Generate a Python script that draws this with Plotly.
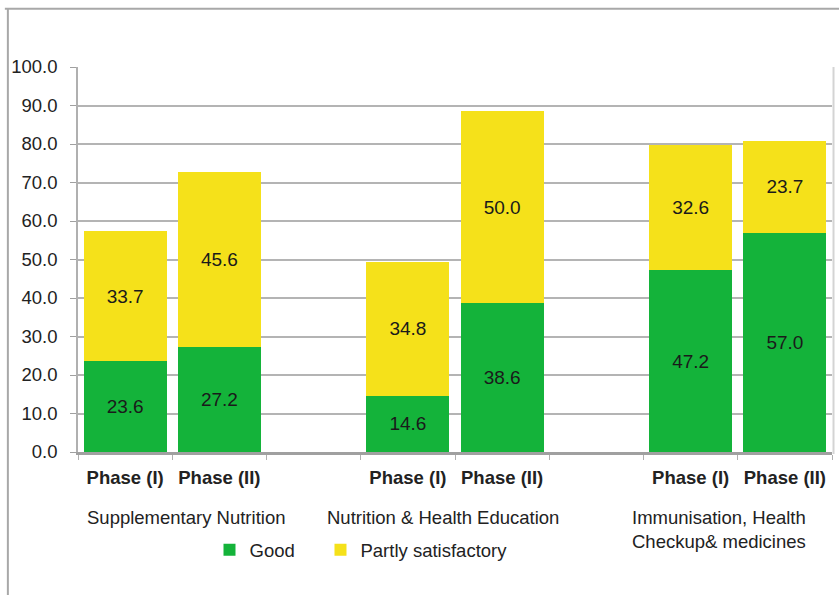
import plotly.graph_objects as go

# Category slots: two phases per programme, with an empty slot between groups
slot_pos = [0, 1, 3, 4, 6, 7]
phase_labels = ["Phase (I)", "Phase (II)", "Phase (I)", "Phase (II)", "Phase (I)", "Phase (II)"]
group_labels = ["Supplementary Nutrition", "Nutrition & Health Education",
                "Immunisation, Health<br>Checkup& medicines"]
group_label_x = [0.65, 3.37, 6.30]

good = [23.6, 27.2, 14.6, 38.6, 47.2, 57.0]
partly = [33.7, 45.6, 34.8, 50.0, 32.6, 23.7]

y_ticks = [0, 10, 20, 30, 40, 50, 60, 70, 80, 90, 100]

GREEN = "#14B33A"
YELLOW = "#F5E11A"
FONT = "Liberation Sans, Arial, sans-serif"

fig = go.Figure()
fig.add_trace(go.Bar(
    x=slot_pos, y=good, name="Good", marker=dict(color=GREEN, line=dict(width=0)),
    text=[f"{v:.1f}" for v in good], textposition="inside", insidetextanchor="middle",
    textfont=dict(size=19, color="#1a1a1a", family=FONT), textangle=0,
    legend="legend",
))
fig.add_trace(go.Bar(
    x=slot_pos, y=partly, name="Partly satisfactory",
    marker=dict(color=YELLOW, line=dict(width=0)),
    text=[f"{v:.1f}" for v in partly], textposition="inside", insidetextanchor="middle",
    textfont=dict(size=19, color="#1a1a1a", family=FONT), textangle=0,
    legend="legend2",
))

# Programme names under the phase labels
for gx, gl in zip(group_label_x, group_labels):
    fig.add_annotation(x=gx, y=0, xref="x", yref="paper", text=gl, showarrow=False,
                       xanchor="center", yanchor="top", yshift=-53, align="left",
                       font=dict(size=18.5, color="#222", family=FONT))

# Outer frame (top and left edges)
fig.add_shape(type="line", xref="paper", yref="paper", x0=-0.097, x1=1.02,
              y0=1.151, y1=1.151, line=dict(color="#a8a8a8", width=2))
fig.add_shape(type="line", xref="paper", yref="paper", x0=-0.093, x1=-0.093,
              y0=1.151, y1=-0.40, line=dict(color="#a8a8a8", width=2))
# Soft shadow on the right edge of the plot area
fig.add_shape(type="line", xref="paper", yref="paper", x0=1.002, x1=1.002,
              y0=-0.005, y1=1, line=dict(color="#d4d4d4", width=2), layer="below")

legend_style = dict(orientation="h", y=-0.255, xanchor="left", yanchor="middle",
                    font=dict(size=18.5, family=FONT, color="#222"), itemwidth=30,
                    bgcolor="rgba(0,0,0,0)")

fig.update_layout(
    width=839, height=595,
    margin=dict(l=78, r=7, t=67, b=143),
    barmode="stack", bargap=0.12,
    plot_bgcolor="white", paper_bgcolor="white",
    font=dict(family=FONT, color="#222"),
    showlegend=True,
    legend=dict(x=0.1744, **legend_style),
    legend2=dict(x=0.3216, **legend_style),
    xaxis=dict(
        range=[-0.5, 7.5], tickmode="array", tickvals=slot_pos,
        ticktext=[f"<b>{p}</b>" for p in phase_labels],
        tickfont=dict(size=18.5, family=FONT, color="#222"),
        ticks="", showgrid=False, zeroline=False,
        showline=True, linecolor="#a0a0a0", linewidth=2.5,
        ticklabelstandoff=7,
        minor=dict(tick0=0.5, dtick=1, ticks="outside", ticklen=5,
                   tickcolor="#b0b0b0", tickwidth=1, showgrid=False),
    ),
    yaxis=dict(
        range=[0, 100], tickmode="array", tickvals=y_ticks,
        ticktext=[f"{v:.1f}" for v in y_ticks],
        tickfont=dict(size=18.5, family=FONT, color="#222"),
        ticks="outside", ticklen=6, tickcolor="#a0a0a0",
        showgrid=True, gridcolor="#b4b4b4", gridwidth=1.5,
        zeroline=False, showline=True, linecolor="#b0b0b0", linewidth=1.5,
        ticklabelstandoff=9,
    ),
)

fig.write_html("out.html")
